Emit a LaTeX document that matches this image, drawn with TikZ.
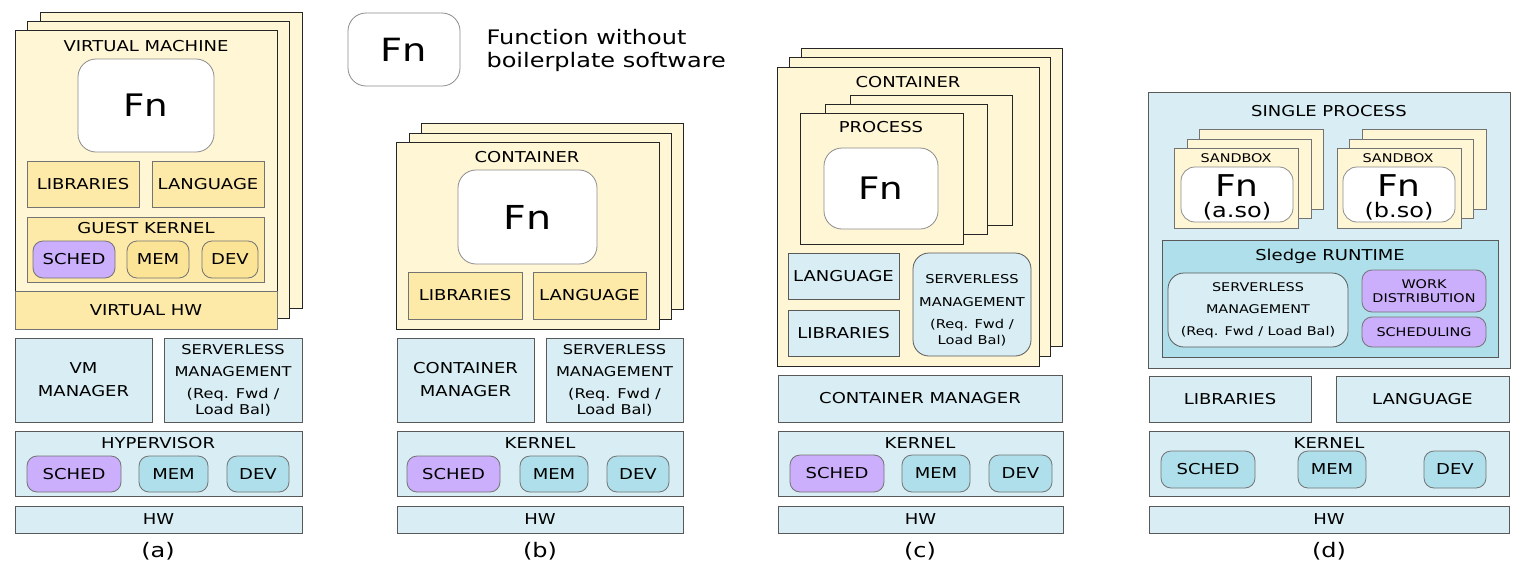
\documentclass[tikz,border=0pt]{standalone}
\usepackage{xcolor}
\usepackage{fontspec}
\setmainfont[FakeStretch=1.2]{DejaVu Sans}
\usepackage{tikz}

\definecolor{cream}{HTML}{FFF6D5}
\definecolor{sand}{HTML}{FDE9A8}
\definecolor{gold}{HTML}{FCE497}
\definecolor{paleblue}{HTML}{D8EEF4}
\definecolor{midblue}{HTML}{AEDFEA}
\definecolor{lilac}{HTML}{CBAEFC}

\begin{document}
\begin{tikzpicture}[x=1pt, y=-1pt]
\tikzset{area/.style n args={4}{at={({(#1+#3)/2},{(#2+#4)/2})}, minimum width={(#3-#1)*1pt}, minimum height={(#4-#2)*1pt}}}
\tikzstyle{txt}=[font=\fontsize{15}{18}\selectfont]
\tikzstyle{smalltxt}=[font=\fontsize{12}{16}\selectfont]
\tikzstyle{tight}=[inner sep=0pt]
\tikzstyle{sheet}=[draw=black!85, line width=1pt, fill=cream, inner sep=0pt]
\tikzstyle{thinsheet}=[draw=black!55, line width=0.8pt, fill=cream, inner sep=0pt]
\tikzstyle{layer}=[draw=black!65, line width=0.8pt, fill=paleblue, inner sep=0pt, align=center, txt]
\tikzstyle{part}=[draw=black!55, line width=0.8pt, fill=sand, inner sep=0pt, align=center, txt]
\tikzstyle{chip}=[draw=black!55, line width=0.8pt, rounded corners=10pt, inner sep=0pt, txt]
\tikzstyle{fnbox}=[draw=black!45, line width=0.8pt, fill=white, rounded corners=18pt, inner sep=0pt, font=\fontsize{31}{34}\selectfont]
\tikzstyle{caption}=[font=\fontsize{20}{24}\selectfont]

\useasboundingbox (0,0) rectangle (1527,576);

% Legend
\node[fnbox, font=\fontsize{32}{36}\selectfont, area={348}{13}{460}{86}] (legend-fn) {Fn};
\node[anchor=west, align=left, font=\fontsize{20}{23}\selectfont] (legend-txt) at (483,50) {Function without\\boilerplate software};

% (a) virtual machine
\node[sheet, area={40}{12}{302}{308}] (vm-back) {};
\node[sheet, area={27}{21}{289}{318}] (vm-mid) {};
\node[sheet, area={15}{30}{277}{329}] (vm-front) {};
\node[txt] (vm-lbl) at (146,46) {VIRTUAL MACHINE};
\node[fnbox, area={78}{59}{214}{152}] (vm-fn) {Fn};
\node[part, area={27}{161}{139}{207}] (vm-libs) {LIBRARIES};
\node[part, area={152}{161}{264}{207}] (vm-lang) {LANGUAGE};
\node[part, area={27}{217}{264}{282}] (vm-guest) {};
\node[txt] (vm-guest-lbl) at (146,228) {GUEST KERNEL};
\node[chip, fill=lilac, area={33}{241}{115}{278}] (vm-gsched) {SCHED};
\node[chip, fill=gold, area={127}{241}{189}{278}] (vm-gmem) {MEM};
\node[chip, fill=gold, area={202}{241}{258}{278}] (vm-gdev) {DEV};
\node[part, area={15}{291}{277}{329}] (vm-vhw) {VIRTUAL HW};

\node[layer, area={15}{338}{152}{422}] (vm-mgr) {VM\\[5pt]MANAGER};
\node[layer, font=\fontsize{13.5}{16}\selectfont, area={164}{338}{302}{422}] (vm-srv) {SERVERLESS\\[6pt]MANAGEMENT\\[6pt](Req. Fwd /\\Load Bal)};
\node[layer, area={15}{431}{302}{496}] (vm-hyp) {};
\node[txt] (vm-hyp-lbl) at (158,443) {HYPERVISOR};
\node[chip, fill=lilac, area={27}{456}{121}{492}] (vm-sched) {SCHED};
\node[chip, fill=midblue, area={139}{456}{208}{492}] (vm-mem) {MEM};
\node[chip, fill=midblue, area={227}{456}{289}{492}] (vm-dev) {DEV};
\node[layer, area={15}{506}{302}{533}] (vm-hw) {HW};
\node[caption] (cap-a) at (158,551) {(a)};

% (b) container
\node[sheet, area={421}{123}{683}{309}] (ct-back) {};
\node[sheet, area={409}{133}{671}{319}] (ct-mid) {};
\node[sheet, area={396}{142}{659}{329}] (ct-front) {};
\node[txt] (ct-lbl) at (527,157) {CONTAINER};
\node[fnbox, font=\fontsize{33}{36}\selectfont, area={458}{170}{597}{264}] (ct-fn) {Fn};
\node[part, area={408}{272}{522}{319}] (ct-libs) {LIBRARIES};
\node[part, area={533}{272}{646}{319}] (ct-lang) {LANGUAGE};

\node[layer, area={397}{338}{534}{422}] (ct-mgr) {CONTAINER\\[5pt]MANAGER};
\node[layer, font=\fontsize{13.5}{16}\selectfont, area={546}{338}{683}{422}] (ct-srv) {SERVERLESS\\[6pt]MANAGEMENT\\[6pt](Req. Fwd /\\Load Bal)};
\node[layer, area={397}{431}{683}{496}] (ct-kern) {};
\node[txt] (ct-kern-lbl) at (540,443) {KERNEL};
\node[chip, fill=lilac, area={407}{456}{500}{492}] (ct-sched) {SCHED};
\node[chip, fill=midblue, area={520}{456}{588}{492}] (ct-mem) {MEM};
\node[chip, fill=midblue, area={607}{456}{669}{492}] (ct-dev) {DEV};
\node[layer, area={397}{506}{683}{533}] (ct-hw) {HW};
\node[caption] (cap-b) at (540,551) {(b)};

% (c) processes in a container
\node[sheet, area={801}{48}{1062}{346}] (pc-back) {};
\node[sheet, area={789}{57}{1050}{356}] (pc-mid) {};
\node[sheet, area={777}{67}{1039}{366}] (pc-front) {};
\node[txt] (pc-lbl) at (908,82) {CONTAINER};
\node[sheet, area={850}{95}{1012}{225}] (proc-back) {};
\node[sheet, area={825}{104}{987}{234}] (proc-mid) {};
\node[sheet, area={800}{113}{963}{244}] (proc-front) {};
\node[txt] (proc-lbl) at (881,127) {PROCESS};
\node[fnbox, area={824}{148}{938}{229}] (pc-fn) {Fn};
\node[layer, area={788}{253}{899}{299}] (pc-lang) {LANGUAGE};
\node[layer, area={788}{310}{899}{356}] (pc-libs) {LIBRARIES};
\node[layer, rounded corners=16pt, font=\fontsize{12.2}{16}\selectfont, area={913}{253}{1031}{356}] (pc-srv) {\rule{0pt}{20pt}SERVERLESS\\[7pt]MANAGEMENT\\[6pt](Req. Fwd /\\Load Bal)};

\node[layer, area={778}{375}{1062}{422}] (pc-mgr) {CONTAINER MANAGER};
\node[layer, area={778}{431}{1063}{496}] (pc-kern) {};
\node[txt] (pc-kern-lbl) at (920,443) {KERNEL};
\node[chip, fill=lilac, area={790}{455}{884}{492}] (pc-sched) {SCHED};
\node[chip, fill=midblue, area={902}{455}{970}{492}] (pc-mem) {MEM};
\node[chip, fill=midblue, area={989}{455}{1052}{492}] (pc-dev) {DEV};
\node[layer, area={778}{506}{1063}{533}] (pc-hw) {HW};
\node[caption] (cap-c) at (920,551) {(c)};

% (d) single process with sandboxes
\node[layer, area={1148}{92}{1510}{368}] (sp-box) {};
\node[txt] (sp-lbl) at (1329,111) {SINGLE PROCESS};
\node[thinsheet, area={1199}{129}{1323}{209}] (sba-back) {};
\node[thinsheet, area={1187}{139}{1311}{218}] (sba-mid) {};
\node[thinsheet, area={1174}{148}{1298}{228}] (sba-front) {};
\node[smalltxt] (sba-lbl) at (1236,158) {SANDBOX};
\node[fnbox, rounded corners=14pt, area={1181}{167}{1293}{222}] (sba-fn) {};
\node[tight, font=\fontsize{30}{30}\selectfont] (sba-fn-name) at (1237,186) {Fn};
\node[tight, font=\fontsize{20}{20}\selectfont] (sba-fn-so) at (1237,211) {(a.so)};
\node[thinsheet, area={1362}{129}{1486}{209}] (sbb-back) {};
\node[thinsheet, area={1349}{139}{1473}{218}] (sbb-mid) {};
\node[thinsheet, area={1337}{148}{1461}{228}] (sbb-front) {};
\node[smalltxt] (sbb-lbl) at (1398,158) {SANDBOX};
\node[fnbox, rounded corners=14pt, area={1343}{167}{1455}{222}] (sbb-fn) {};
\node[tight, font=\fontsize{30}{30}\selectfont] (sbb-fn-name) at (1399,186) {Fn};
\node[tight, font=\fontsize{20}{20}\selectfont] (sbb-fn-so) at (1399,211) {(b.so)};

\node[layer, fill=midblue, area={1162}{240}{1498}{357}] (sl-rt) {};
\node[txt] (sl-lbl) at (1330,256) {Sledge RUNTIME};
\node[layer, rounded corners=16pt, font=\fontsize{12}{16}\selectfont, area={1168}{273}{1348}{347}] (sl-srv) {SERVERLESS\\[6pt]MANAGEMENT\\[6pt](Req. Fwd / Load Bal)};
\node[chip, fill=lilac, align=center, font=\fontsize{12}{14}\selectfont, area={1362}{270}{1486}{312}] (sl-work) {WORK\\DISTRIBUTION};
\node[chip, fill=lilac, font=\fontsize{12}{14}\selectfont, area={1362}{317}{1486}{347}] (sl-sched) {SCHEDULING};

\node[layer, area={1149}{376}{1311}{422}] (sp-libs) {LIBRARIES};
\node[layer, area={1336}{376}{1509}{422}] (sp-lang) {LANGUAGE};
\node[layer, area={1149}{431}{1509}{496}] (sp-kern) {};
\node[txt] (sp-kern-lbl) at (1329,443) {KERNEL};
\node[chip, fill=midblue, area={1161}{451}{1255}{488}] (sp-sched) {SCHED};
\node[chip, fill=midblue, area={1298}{451}{1366}{488}] (sp-mem) {MEM};
\node[chip, fill=midblue, area={1424}{451}{1486}{488}] (sp-dev) {DEV};
\node[layer, area={1149}{506}{1509}{533}] (sp-hw) {HW};
\node[caption] (cap-d) at (1329,551) {(d)};
\end{tikzpicture}
\end{document}
